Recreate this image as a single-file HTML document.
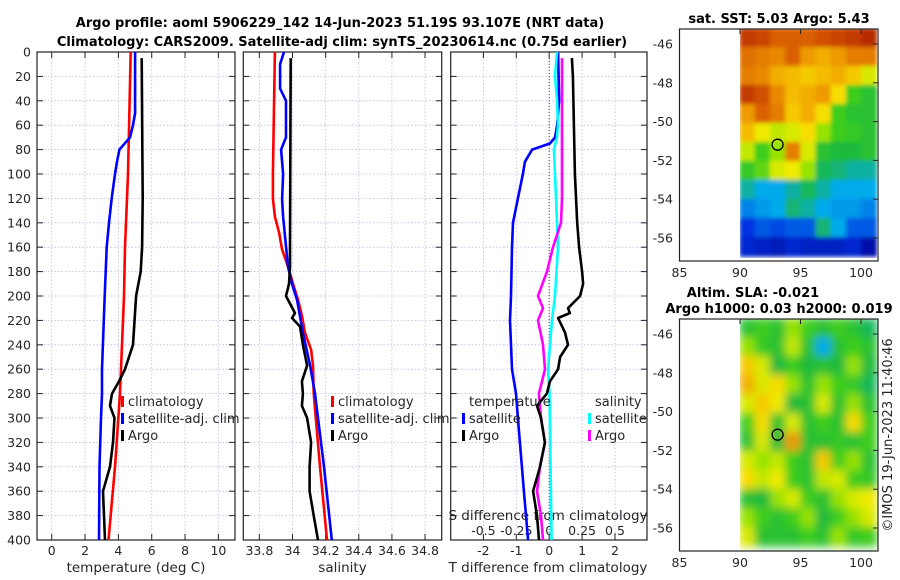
<!DOCTYPE html>
<html><head><meta charset="utf-8"><style>
html,body{margin:0;padding:0;background:#fff;}
svg{display:block;font-family:"DejaVu Sans","Liberation Sans",sans-serif;}
</style></head><body>
<svg id="c" width="900" height="580" viewBox="0 0 900 580" xmlns="http://www.w3.org/2000/svg">
<defs>
<filter id="blurSla" x="-5%" y="-5%" width="110%" height="110%"><feGaussianBlur stdDeviation="4.5"/></filter>
<filter id="blurSst"><feGaussianBlur stdDeviation="2"/></filter>
<clipPath id="clipSst"><rect x="740" y="29" width="137" height="229"/></clipPath>
<clipPath id="clipSla"><rect x="740" y="319" width="138" height="232"/></clipPath>
</defs>
<g font-weight="bold" font-size="13" fill="#000" text-anchor="middle">
<text x="340" y="27">Argo profile: aoml 5906229_142 14-Jun-2023 51.19S 93.107E (NRT data)</text>
<text x="342" y="46">Climatology: CARS2009. Satellite-adj clim: synTS_20230614.nc (0.75d earlier)</text>
<text x="779" y="23">sat. SST: 5.03 Argo: 5.43</text>
<text x="753" y="297">Altim. SLA: -0.021</text>
<text x="779" y="313">Argo h1000: 0.03 h2000: 0.019</text>
</g>
<text transform="translate(892,435) rotate(-90)" font-size="13" fill="#262626" text-anchor="middle">©IMOS 19-Jun-2023 11:40:46</text>
<g id="plots"></g>
</svg>
<script>
// ---------- profile data (depth m / value) ----------
const depthTicks=[0,20,40,60,80,100,120,140,160,180,200,220,240,260,280,300,320,340,360,380,400];
const tempTicks=[0,2,4,6,8,10];
const salTicks=[33.8,34,34.2,34.4,34.6,34.8];
const tdiffTicks=[-2,-1,0,1,2];
const sdiffTicks=[-0.5,-0.25,0,0.25,0.5];
const sdiffTickLabels=["-0.5","-0.25","0","0.25","0.5"];

const tClimD=[0,100,120,160,200,260,280,340,400];
const tClimV=[4.74,4.58,4.52,4.4,4.34,4.16,4.1,3.8,3.41];
const tSatD=[0,50,60,70,80,90,100,120,140,160,200,260,280,300,340,400];
const tSatV=[5.0,5.0,4.88,4.7,4.06,3.92,3.8,3.6,3.44,3.3,3.18,3.02,3.02,2.96,2.87,2.84];
const tArgoD=[5,120,160,180,200,240,260,270,280,290,300,320,340,360,380,400];
const tArgoV=[5.4,5.46,5.42,5.34,5.06,4.88,4.4,4.04,3.62,3.5,3.77,3.68,3.5,3.08,3.14,3.2];

const sClimD=[0,100,120,135,148,162,176,190,203,216,230,244,257,280,340,400];
const sClimV=[33.894,33.882,33.882,33.894,33.919,33.937,33.973,34.003,34.033,34.057,34.075,34.112,34.124,34.128,34.166,34.208];
const sSatD=[0,10,30,40,70,80,100,121,135,176,190,203,230,257,280,340,400];
const sSatV=[33.949,33.925,33.925,33.961,33.961,33.931,33.943,33.937,33.943,33.973,33.997,34.027,34.063,34.106,34.136,34.19,34.237];
const sArgoD=[5,160,176,190,200,214,218,225,240,257,270,280,290,300,320,340,360,380,400];
const sArgoV=[33.989,33.985,33.985,33.979,33.961,34.015,33.997,34.045,34.063,34.088,34.057,34.063,34.057,34.088,34.112,34.103,34.103,34.128,34.154];

const dtSatD=[0,40,60,70,75,80,90,100,120,140,160,200,220,260,280,300,340,360,400];
const dtSatV=[0.27,0.3,0.24,0.18,0.02,-0.52,-0.74,-0.8,-0.95,-1.1,-1.13,-1.16,-1.19,-1.13,-1.01,-0.95,-0.83,-0.77,-0.64];
const dtArgoD=[5,20,60,100,140,160,180,190,200,210,214,218,230,240,250,260,270,280,290,300,320,340,360,380,400];
const dtArgoV=[0.69,0.72,0.75,0.78,0.85,0.91,1.0,1.03,0.94,0.57,0.63,0.27,0.48,0.57,0.33,0.27,0.02,-0.07,-0.37,-0.25,-0.13,-0.28,-0.49,-0.37,-0.31];
const dsSatD=[0,20,40,60,70,80,100,140,160,200,220,260,280,400];
const dsSatV=[0.059,0.044,0.059,0.067,0.059,0.036,0.044,0.059,0.067,0.044,0.021,-0.009,0.002,0.018];
const dsArgoD=[5,120,140,160,180,200,210,220,240,260,270,280,300,320,340,360,380,400];
const dsArgoV=[0.097,0.097,0.09,0.029,-0.017,-0.085,-0.047,-0.085,-0.047,-0.032,-0.055,-0.078,-0.062,-0.032,-0.07,-0.093,-0.062,-0.047];

// ---------- map data (colormap index 0..1), rows north->south ----------
const mapLonTicks=[85,90,95,100];
const mapLatTicks=[-46,-48,-50,-52,-54,-56];
const argoLon=93.107, argoLat=-51.19;
const sstGrid=[
[0.92,0.9,0.85,0.85,0.85,0.88,0.9,0.92,0.95],
[0.82,0.8,0.78,0.85,0.75,0.72,0.75,0.8,0.8],
[0.8,0.78,0.72,0.7,0.68,0.7,0.72,0.68,0.6],
[0.92,0.88,0.78,0.7,0.72,0.75,0.65,0.5,0.45],
[0.75,0.85,0.8,0.68,0.72,0.65,0.5,0.45,0.45],
[0.7,0.62,0.58,0.6,0.65,0.55,0.5,0.48,0.45],
[0.58,0.5,0.55,0.8,0.6,0.45,0.42,0.42,0.45],
[0.48,0.52,0.6,0.62,0.55,0.4,0.38,0.35,0.35],
[0.35,0.3,0.3,0.35,0.4,0.35,0.3,0.3,0.3],
[0.25,0.28,0.3,0.38,0.35,0.3,0.28,0.28,0.25],
[0.15,0.2,0.18,0.2,0.2,0.38,0.3,0.2,0.2],
[0.12,0.1,0.08,0.12,0.1,0.1,0.1,0.12,0.05]];
const slaGrid=[
[0.45,0.5,0.45,0.55,0.5,0.45,0.5,0.45,0.4],
[0.55,0.48,0.45,0.58,0.45,0.3,0.45,0.5,0.45],
[0.68,0.6,0.42,0.5,0.42,0.45,0.42,0.55,0.42],
[0.72,0.6,0.65,0.55,0.45,0.55,0.5,0.48,0.4],
[0.6,0.68,0.62,0.42,0.45,0.6,0.45,0.55,0.45],
[0.5,0.65,0.45,0.6,0.45,0.5,0.45,0.65,0.5],
[0.45,0.6,0.42,0.75,0.45,0.45,0.48,0.45,0.5],
[0.6,0.55,0.58,0.5,0.45,0.68,0.5,0.55,0.45],
[0.65,0.58,0.62,0.5,0.45,0.58,0.6,0.5,0.48],
[0.45,0.42,0.55,0.6,0.5,0.45,0.55,0.6,0.62],
[0.55,0.5,0.45,0.5,0.55,0.42,0.5,0.55,0.6],
[0.6,0.45,0.45,0.45,0.5,0.45,0.55,0.48,0.5]];

// ---------- helpers ----------
const NS="http://www.w3.org/2000/svg";
const root=document.getElementById('plots');
function mk(tag,attrs,parent){const e=document.createElementNS(NS,tag);for(const k in attrs)e.setAttribute(k,attrs[k]);(parent||root).appendChild(e);return e;}
const Y0=52, Y1=540;
const yD=d=>Y0+d*(Y1-Y0)/400;
const xT=v=>51.7+v*16.67;
const xS=v=>292.5+(v-34)*165.7;
const xDT=v=>549.2+v*32.9;
const xDS=v=>549.2+v*131.6;
const panels=[{x0:37,x1:235,fx:xT,ticks:tempTicks,labs:tempTicks.map(String),title:"temperature (deg C)",name:"temperature"},
{x0:243.3,x1:441.7,fx:xS,ticks:salTicks,labs:salTicks.map(String),title:"salinity",name:"salinity"},
{x0:450.7,x1:647,fx:xDT,ticks:tdiffTicks,labs:tdiffTicks.map(String),title:"T difference from climatology",name:"difference"}];

const cmStops=[[0,[0,0,140]],[0.15,[0,50,225]],[0.3,[0,170,235]],[0.42,[30,185,60]],[0.5,[60,205,30]],[0.56,[170,230,0]],[0.63,[250,235,0]],[0.74,[240,160,0]],[0.86,[215,90,0]],[1,[165,15,0]]];
function cmap(v){v=Math.max(0,Math.min(1,v));
 for(let i=1;i<cmStops.length;i++){if(v<=cmStops[i][0]){const a=cmStops[i-1],b=cmStops[i];const f=(v-a[0])/(b[0]-a[0]);
  const c=a[1].map((x,k)=>Math.round(x+(b[1][k]-x)*f));return `rgb(${c[0]},${c[1]},${c[2]})`;}}
 return "rgb(165,15,0)";}

function line(D,V,fx,color,name){
 const pts=D.map((d,i)=>fx(V[i]).toFixed(1)+","+yD(d).toFixed(1)).join(" ");
 const p=mk('polyline',{points:pts,fill:"none",stroke:color,"stroke-width":2.6,"stroke-linejoin":"round"});
 
 
}

panels.forEach((P,pi)=>{
 const g=mk('g',{});
 
 
 depthTicks.forEach(d=>{mk('line',{x1:P.x0,x2:P.x1,y1:yD(d),y2:yD(d),stroke:"#b4b8e4","stroke-width":0.8,"stroke-dasharray":"1.5,2"},g);});
 P.ticks.forEach(t=>{const x=P.fx(t);mk('line',{x1:x,x2:x,y1:Y0,y2:Y1,stroke:"#c4b8dc","stroke-width":0.8,"stroke-dasharray":"1.5,2"},g);});
 depthTicks.forEach(d=>{const y=yD(d);mk('line',{x1:P.x0,x2:P.x0+6,y1:y,y2:y,stroke:"#222"},g);mk('line',{x1:P.x1,x2:P.x1-6,y1:y,y2:y,stroke:"#222"},g);});
 P.ticks.forEach((t,i)=>{const x=P.fx(t);mk('line',{x1:x,x2:x,y1:Y1,y2:Y1-6,stroke:"#222"},g);mk('line',{x1:x,x2:x,y1:Y0,y2:Y0+6,stroke:"#222"},g);
  const tx=mk('text',{x:x,y:555,"font-size":12.5,fill:"#262626","text-anchor":"middle"},g);tx.textContent=P.labs[i];
  
  });
 const tt=mk('text',{x:(pi==2?548:(P.x0+P.x1)/2),y:572,"font-size":13.5,fill:"#262626","text-anchor":"middle"},g);tt.textContent=P.title;
 
 
 mk('rect',{x:P.x0,y:Y0,width:P.x1-P.x0,height:Y1-Y0,fill:"none",stroke:"#222","stroke-width":1.2},g);
});
depthTicks.forEach(d=>{const t=mk('text',{x:31,y:yD(d)+4.5,"font-size":12.5,fill:"#262626","text-anchor":"end"});t.textContent=String(d);
 
 });
mk('line',{x1:xDT(0),x2:xDT(0),y1:Y0,y2:Y1,stroke:"#444","stroke-width":1,"stroke-dasharray":"1,2"});
sdiffTicks.forEach((t,i)=>{const x=xDS(t);const tx=mk('text',{x:x,y:535,"font-size":12.5,fill:"#262626","text-anchor":"middle"});tx.textContent=sdiffTickLabels[i];
 
 });
{const t=mk('text',{x:548,y:520,"font-size":13.5,fill:"#262626","text-anchor":"middle"});t.textContent="S difference from climatology";
 
 }

line(tClimD,tClimV,xT,"#ff0000","temp-climatology-line");
line(tSatD,tSatV,xT,"#0000ff","temp-satellite-line");
line(tArgoD,tArgoV,xT,"#000000","temp-argo-line");
line(sClimD,sClimV,xS,"#ff0000","sal-climatology-line");
line(sSatD,sSatV,xS,"#0000ff","sal-satellite-line");
line(sArgoD,sArgoV,xS,"#000000","sal-argo-line");
line(dtSatD,dtSatV,xDT,"#0000ff","tdiff-satellite-line");
line(dsSatD,dsSatV,xDS,"#00ffff","sdiff-satellite-line");
line(dsArgoD,dsArgoV,xDS,"#ff00ff","sdiff-argo-line");
line(dtArgoD,dtArgoV,xDT,"#000000","tdiff-argo-line");

function legend(x,y,color,label,name){
 mk('rect',{x:x,y:y-9,width:3,height:11,fill:color});
 const t=mk('text',{x:x+7,y:y+1,"font-size":13,fill:"#262626"});t.textContent=label;
 
 }
legend(121,405,"#ff0000","climatology","legend-climatology");
legend(121,422,"#0000ff","satellite-adj. clim","legend-satellite");
legend(121,439,"#000000","Argo","legend-argo");
legend(331,405,"#ff0000","climatology","legend-sal-climatology");
legend(331,422,"#0000ff","satellite-adj. clim","legend-sal-satellite");
legend(331,439,"#000000","Argo","legend-sal-argo");
{const t=mk('text',{x:469,y:406,"font-size":13,fill:"#262626"});t.textContent="temperature";
 
 
 const s=mk('text',{x:595,y:406,"font-size":13,fill:"#262626"});s.textContent="salinity";
 
 }
legend(462,422,"#0000ff","satellite","legend-tdiff-satellite");
legend(462,439,"#000000","Argo","legend-tdiff-argo");
legend(588,422,"#00ffff","satellite","legend-sdiff-satellite");
legend(588,439,"#ff00ff","Argo","legend-sdiff-argo");

const mLonX=lon=>740+(lon-90)*12.1;
function drawMap(grid,top,latRef,clip,filt,name){
 const g=mk('g',{});
 
 
 const mLatY=lat=>latRef+(-46-lat)*19.4;
 const lon0=90,lon1=101.3,lat0=-45.2,lat1=-56.95;
 const nr=grid.length,nc=grid[0].length;
 const cw=(lon1-lon0)/nc, ch=(lat0-lat1)/nr;
 const cg=mk('g',{"clip-path":`url(#${clip})`},g);
 const ig=mk('g',{filter:`url(#${filt})`},cg);
 grid.forEach((row,r)=>row.forEach((v,c)=>{
  const x=mLonX(lon0+c*cw), y=mLatY(lat0-r*ch);
  const rc=mk('rect',{x:x-0.5,y:y-0.5,width:cw*12.1+1,height:ch*19.4+1,fill:cmap(v)},ig);
  
  
 }));
 mk('rect',{x:679.5,y:top,width:878-679.5,height:232,fill:"none",stroke:"#222","stroke-width":1.2},g);
 mapLatTicks.forEach(l=>{const y=mLatY(l);mk('line',{x1:878,x2:873,y1:y,y2:y,stroke:"#222"},g);
  const t=mk('text',{x:673,y:y+4.5,"font-size":12.5,fill:"#262626","text-anchor":"end"},g);t.textContent=String(l);
  
  });
 mapLonTicks.forEach(l=>{const x=mLonX(l);mk('line',{x1:x,x2:x,y1:top,y2:top+5,stroke:"#222"},g);
  const t=mk('text',{x:x,y:top+232+16,"font-size":12.5,fill:"#262626","text-anchor":"middle"},g);t.textContent=String(l);
  
  });
 const m=mk('circle',{cx:mLonX(argoLon),cy:mLatY(argoLat),r:5.5,fill:"none",stroke:"#000","stroke-width":1.3},g);
 
 
}
drawMap(sstGrid,29,44,"clipSst","blurSst","sst-map");
drawMap(slaGrid,319,334,"clipSla","blurSla","sla-map");
</script>
</body></html>
